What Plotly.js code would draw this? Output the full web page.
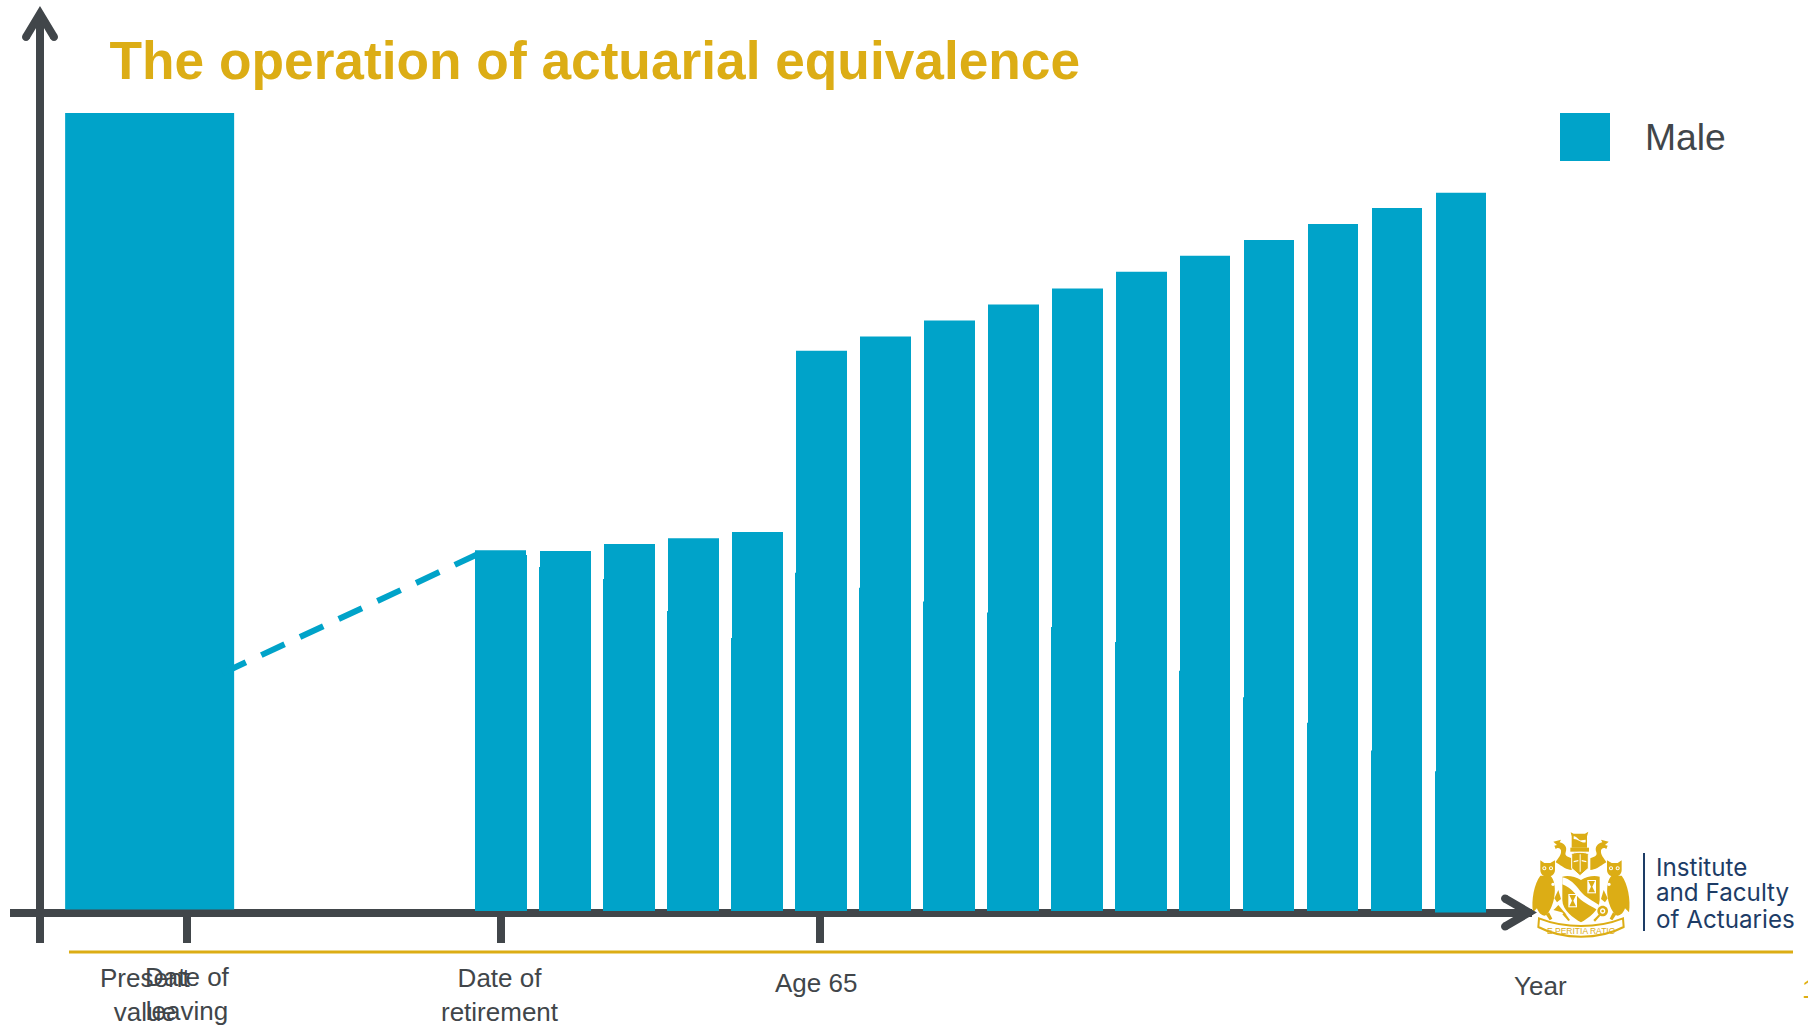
<!DOCTYPE html>
<html>
<head>
<meta charset="utf-8">
<title>The operation of actuarial equivalence</title>
<script src="https://cdn.plot.ly/plotly-3.0.1.min.js"></script>
<style>html,body{margin:0;padding:0;background:#fff;overflow:hidden}#chart{width:1808px;height:1025px}</style>
</head>
<body>
<div id="chart"></div>
<script>
// Years relative to the date of retirement, one bar per year of pension payment
const paymentYears = [0,1,2,3,4,5,6,7,8,9,10,11,12,13,14,15];
const pensionTotal = [45.2,45.1,46.0,46.7,47.5,70.2,72.0,74.0,76.0,78.0,80.1,82.1,84.1,86.1,88.1,90.0];
const pensionLower = [44.6,43.1,41.6,37.6,34.2,42.4,40.5,38.8,37.4,35.6,33.7,30.1,26.8,23.6,20.1,17.7];
const lowerBase    = [0,0,0,0,0,0,0,0,0,0,0,0,0,0,0,-0.2];
const presentValueYear = [-5.49];
const presentValue = [99.8];
const presentValueBase = [0.2];
const deferralYears = [-4.35,-0.355];
const deferralValues = [29.8,44.75];
const tickYears = [-4.91,0,4.98];
const axisLabels = ['Present<br>value','Date of<br>leaving','Date of<br>retirement','Age 65'];
const axisLabelYears = [-5.57,-4.9,-0.02,4.92];

const W = 1808, H = 1025;
const BLUE = '#00a3c9', GREY = '#41464a', GOLD = '#dcad15', NAVY = '#1d3c66';
const FONT = '"Liberation Sans", Arial, sans-serif';

// Page pixels to paper fractions; the plot has no margins, so paper is the page.
const xp = px => px / W;
const yp = py => 1 - py / H;

// Horizontal scale: 64 px per year with retirement at 501 px. Vertical: 7.98 px per unit with zero at 911 px.
const PX_PER_YEAR = 64;
const xVal = px => (px - 501) / PX_PER_YEAR;
const yVal = py => (911 - py) / 7.98;
const yearsWide = px => px / PX_PER_YEAR;

// Bar geometry in years: the later payment years are drawn a touch narrower
const lowerWidths = paymentYears.map(i => yearsWide(i >= 11 ? 51 : 52));
const upperWidths = paymentYears.map(i => yearsWide(i >= 11 ? 50 : 51));
const lowerOffsets = paymentYears.map(() => yearsWide(-26));
const upperOffsets = paymentYears.map(i => yearsWide(i === 0 ? -26 : -25));

// Converts an absolute pixel path into a paper-referenced path
function pagePath(d) {
  let i = 0;
  return d.replace(/-?\d+(\.\d+)?/g, n => (i++ % 2 === 0 ? xp(+n) : yp(+n)).toFixed(5));
}
function shapePath(d, fill, line, width) {
  return {type:'path', xref:'paper', yref:'paper', path:pagePath(d),
          fillcolor:fill||'rgba(0,0,0,0)', line:{color:line||'rgba(0,0,0,0)', width:width||0}};
}
function circlePath(cx, cy, r) {
  const k = r * 0.5523;
  return `M${cx-r} ${cy} C${cx-r} ${cy-k} ${cx-k} ${cy-r} ${cx} ${cy-r} C${cx+k} ${cy-r} ${cx+r} ${cy-k} ${cx+r} ${cy} ` +
         `C${cx+r} ${cy+k} ${cx+k} ${cy+r} ${cx} ${cy+r} C${cx-k} ${cy+r} ${cx-r} ${cy+k} ${cx-r} ${cy} Z`;
}

// Coat of arms, drawn in a local 345-unit box placed at (1525, 825) on the page
const AXIS_C = 168;
function crestPath(d, mirror) {
  let i = 0;
  return d.replace(/-?\d+(\.\d+)?/g, n => {
    const v = +n;
    if (i++ % 2 === 0) return (1525 + (mirror ? 2 * AXIS_C - v : v) / 3).toFixed(2);
    return (825 + v / 3).toFixed(2);
  });
}
const crestShapes = [];
function crest(d, fill, both, line, width) {
  crestShapes.push(shapePath(crestPath(d), fill, line, width));
  if (both) crestShapes.push(shapePath(crestPath(d, true), fill, line, width));
}
const owlBody = 'M46 152 C28 175 18 225 24 262 L36 250 C40 262 48 272 60 272 C82 258 94 210 88 178 C86 165 82 158 76 152 Z';
const owlHead = 'M46 106 L58 114 L76 114 L90 106 L90 135 C90 150 74 156 68 156 C60 156 46 150 46 135 Z';
const mantling = 'M85 50 L108 44 L104 52 C118 56 128 66 122 82 C118 94 130 96 140 100 L140 135 C125 135 112 125 102 118 L92 112 C98 100 110 92 108 76 C104 66 96 68 92 72 L88 62 L96 60 Z';

crest(owlBody, GOLD, true);
crest(owlHead, GOLD, true);
crest(circlePath(58,130,6), '#fff', true);
crest(circlePath(78,130,6), '#fff', true);
crest(circlePath(58,130,3), GOLD, true);
crest(circlePath(78,130,3), GOLD, true);
crest(circlePath(84,178,5), '#fff', true);
crest('M62 268 L74 286 L82 281 L72 262 Z', GOLD, true);
crest('M100 195 L108 222 L96 232 L88 220 Z', GOLD, true);
crest(mantling, GOLD, true);
// Shield with its wavy bend and the two hourglass panels
crest('M112 155 C130 150 150 155 168 165 C185 155 205 150 224 155 L224 225 C224 255 190 280 168 292 C146 280 112 255 112 225 Z', GOLD);
crest('M112 157 C135 162 150 177 165 197 C180 217 205 227 222 240 L216 254 C195 240 170 233 152 208 C138 190 125 184 112 178 Z', '#fff');
crest('M187 165 L213 165 L213 205 L187 205 Z', '#fff');
crest('M190 168 L210 168 L202 185 L210 202 L190 202 L198 185 Z', GOLD);
crest('M130 207 L156 207 L156 247 L130 247 Z', '#fff');
crest('M133 210 L153 210 L145 227 L153 244 L133 244 L141 227 Z', GOLD);
// Crest box, wreath and helm
crest('M137 22 L146 26 L180 26 L190 20 L186 34 L186 68 L140 68 L140 34 Z', GOLD);
crest('M146 34 C155 32 160 48 170 46 L182 44 L182 52 C170 56 160 42 146 42 Z', '#fff');
crest('M136 68 L192 68 L192 80 L136 80 Z', GOLD);
crest('M140 88 C142 80 188 80 190 88 L190 130 L165 152 L140 130 Z', GOLD, false, '#fff', 1);
crest('M164 88 L167 88 L167 140 L164 140 Z', '#fff');
crest('M146 108 L160 105 L160 109 L146 112 Z', '#fff');
crest('M184 108 L170 105 L170 109 L184 112 Z', '#fff');
// Thistle and rose at the foot of the shield
crest('M100 240 L125 270 L110 262 L85 255 C92 250 95 245 100 240 Z', GOLD);
crest('M118 262 L135 285 L130 288 L112 268 Z', GOLD);
crest(circlePath(233,258,16), GOLD);
crest(circlePath(233,258,8), '#fff');
crest(circlePath(233,258,4), GOLD);
crest('M205 285 L222 268 L226 272 L210 290 Z', GOLD);
// Motto ribbon
crest('M42 280 C80 295 130 303 168 303 C206 303 256 295 294 280 L296 306 C260 325 210 335 168 335 C126 335 76 325 40 306 Z', '#fff', false, GOLD, 2);

// Arrowheads closing the two axes
function arrowHead(a, b, c, w) {
  return [
    shapePath(`M${a[0]} ${a[1]} L${b[0]} ${b[1]} L${c[0]} ${c[1]}`, null, GREY, w),
    shapePath(circlePath(a[0], a[1], w / 2), GREY),
    shapePath(circlePath(c[0], c[1], w / 2), GREY)
  ];
}

const shapes = [
  // Rule above the footer
  {type:'line', xref:'paper', yref:'paper', x0:xp(69), x1:xp(1793), y0:yp(952), y1:yp(952), line:{color:GOLD, width:3}},
  // Legend swatch
  {type:'rect', xref:'paper', yref:'paper', x0:xp(1560), x1:xp(1610), y0:yp(113), y1:yp(161), fillcolor:BLUE, line:{width:0}},
  // Logo divider
  {type:'line', xref:'paper', yref:'paper', x0:xp(1644), x1:xp(1644), y0:yp(853), y1:yp(931), line:{color:NAVY, width:2}},
  ...crestShapes,
  ...arrowHead([1505,898.5],[1529,912.5],[1505,926.5],8),
  ...arrowHead([26,37],[40,13.7],[54,37],8)
];

function note(text, x, y, opts) {
  return Object.assign({text, x, y, xref:'paper', yref:'paper', showarrow:false, borderpad:0,
    xanchor:'center', yanchor:'middle', align:'center', font:{family:FONT, size:26, color:GREY}}, opts||{});
}
const axisLabelRows = [995, 993.5, 995, 983];
const logoFont = {family:'Inter', size:24.2, color:NAVY, weight:400};
const annotations = axisLabels.map((t, i) => note(t, axisLabelYears[i], yp(axisLabelRows[i]), {xref:'x'}));
annotations.push(
  note('Year', xp(1540), yp(986)),
  note('Male', xp(1644), yp(137), {xanchor:'left', font:{family:FONT, size:37.3, color:GREY}}),
  note('1', xp(1801), yp(989), {xanchor:'left', font:{family:FONT, size:26, color:GOLD}}),
  note('Institute', xp(1655), yp(867), {xanchor:'left', font:logoFont}),
  note('and Faculty', xp(1655), yp(892.5), {xanchor:'left', font:logoFont}),
  note('of Actuaries', xp(1655), yp(919), {xanchor:'left', font:logoFont}),
  note('E PERITIA RATIO', xp(1581), yp(931), {font:{family:FONT, size:8.5, color:GOLD}})
);

const traces = [
  {type:'bar', name:'Male', x:presentValueYear, y:presentValue, base:presentValueBase, width:yearsWide(169),
   marker:{color:BLUE, line:{width:0}}, hoverinfo:'skip'},
  {type:'bar', name:'Male', x:paymentYears, y:pensionLower, base:lowerBase, width:lowerWidths, offset:lowerOffsets,
   marker:{color:BLUE, line:{width:0}}, hoverinfo:'skip'},
  {type:'bar', name:'Male', x:paymentYears, y:pensionTotal, width:upperWidths, offset:upperOffsets,
   marker:{color:BLUE, line:{width:0}}, hoverinfo:'skip'},
  {type:'scatter', mode:'lines', name:'Male', x:deferralYears, y:deferralValues,
   line:{color:BLUE, width:6, dash:'25.7px,17px'}, hoverinfo:'skip'}
];

const layout = {
  width:W, height:H, margin:{l:0, r:0, t:0, b:0, pad:0},
  paper_bgcolor:'#fff', plot_bgcolor:'#fff', showlegend:false, barmode:'overlay',
  title:{text:'The operation of actuarial equivalence', x:xp(109.5), xref:'paper', xanchor:'left',
         y:yp(60), yref:'paper', yanchor:'middle', font:{family:FONT, size:53.25, color:GOLD, weight:'bold'}},
  xaxis:{domain:[xp(10), xp(1532)], range:[xVal(10), xVal(1532)], anchor:'free', position:yp(912.5),
         showline:true, linecolor:GREY, linewidth:8, layer:'below traces',
         ticks:'outside', ticklen:26, tickwidth:8, tickcolor:GREY,
         tickmode:'array', tickvals:tickYears, ticktext:['','',''], showticklabels:false,
         showgrid:false, zeroline:false, fixedrange:true},
  yaxis:{domain:[yp(943), yp(14)], range:[yVal(943), yVal(14)], anchor:'free', position:xp(40),
         showline:true, linecolor:GREY, linewidth:8, layer:'below traces',
         ticks:'', showticklabels:false, showgrid:false, zeroline:false, fixedrange:true},
  shapes, annotations
};

Plotly.newPlot('chart', traces, layout, {displayModeBar:false, staticPlot:true});
</script>
</body>
</html>
